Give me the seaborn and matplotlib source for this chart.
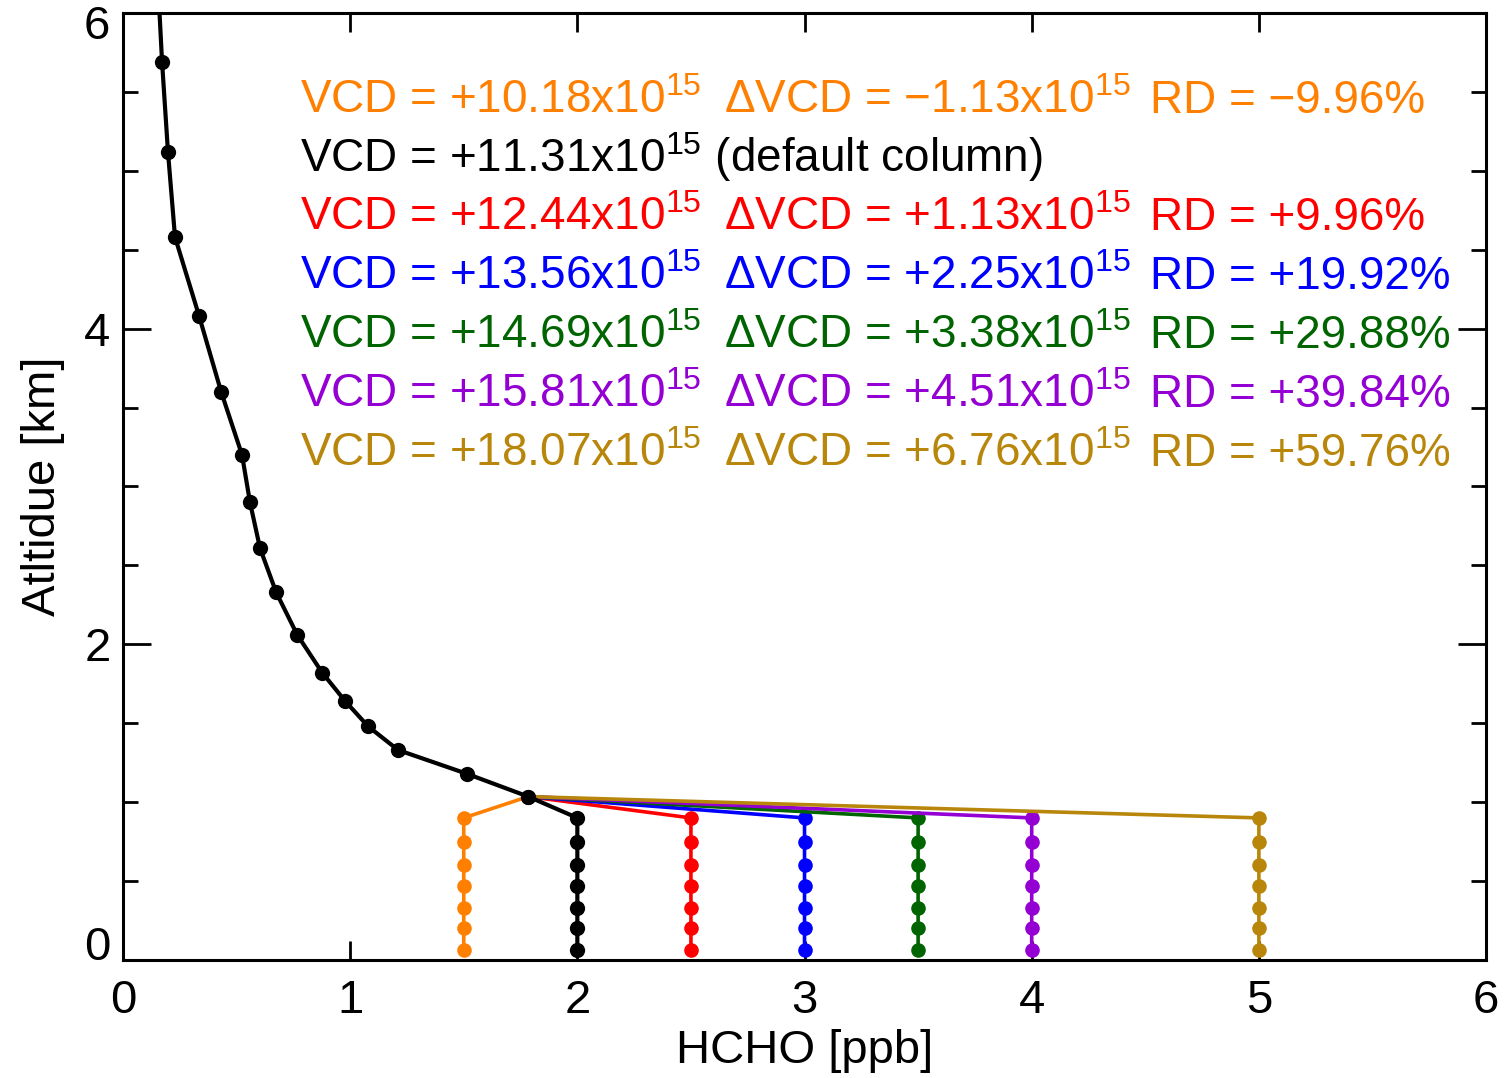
import numpy as np
import pandas as pd
import matplotlib
matplotlib.use("Agg")
import matplotlib.pyplot as plt
import matplotlib.transforms as mtransforms
import seaborn as sns
from matplotlib.ticker import MultipleLocator

# Default HCHO profile (altitude in km, mixing ratio in ppb)
altitude = [0.065, 0.20, 0.33, 0.47, 0.60, 0.75, 0.90,
            1.035, 1.18, 1.33, 1.48, 1.64, 1.82, 2.06, 2.33, 2.61,
            2.90, 3.20, 3.60, 4.08, 4.58, 5.12, 5.69, 6.30]
hcho_default = [2.0, 2.0, 2.0, 2.0, 2.0, 2.0, 2.0,
                1.784, 1.513, 1.211, 1.079, 0.978, 0.877, 0.767, 0.674, 0.603,
                0.559, 0.524, 0.432, 0.335, 0.229, 0.198, 0.172, 0.150]

# Perturbed boundary-layer values (lowest 7 levels) and their colours
n_bl = 7
perturbed_values = [1.5, 2.5, 3.0, 3.5, 4.0, 5.0]
perturbed_names = ["bl_1.5", "bl_2.5", "bl_3.0", "bl_3.5", "bl_4.0", "bl_5.0"]
perturbed_colors = ["#FF8000", "#FF0000", "#0000FF", "#006400", "#9400D3", "#B8860B"]

# Column annotations
vcd_text = ["+10.18", "+11.31", "+12.44", "+13.56", "+14.69", "+15.81", "+18.07"]
dvcd_text = ["\u22121.13", None, "+1.13", "+2.25", "+3.38", "+4.51", "+6.76"]
rd_text = ["\u22129.96%", None, "+9.96%", "+19.92%", "+29.88%", "+39.84%", "+59.76%"]
text_colors = ["#FF8000", "#000000", "#FF0000", "#0000FF", "#006400", "#9400D3", "#B8860B"]

# Build long-form tables
rows = []
for name, val in zip(perturbed_names, perturbed_values):
    prof = list(hcho_default[:n_bl + 1])
    prof[:n_bl] = [val] * n_bl
    for a, h in zip(altitude[:n_bl + 1], prof):
        rows.append({"hcho": h, "alt": a, "profile": name})
df_pert = pd.DataFrame(rows)
df_def = pd.DataFrame({"hcho": hcho_default, "alt": altitude, "profile": "default"})

sns.set_style("white")
plt.rcParams["font.family"] = ["Liberation Sans", "DejaVu Sans"]
plt.rcParams["mathtext.fontset"] = "custom"
plt.rcParams["mathtext.rm"] = "Liberation Sans"
plt.rcParams["text.color"] = "black"
plt.rcParams["axes.labelcolor"] = "black"
plt.rcParams["xtick.color"] = "black"
plt.rcParams["ytick.color"] = "black"

fig = plt.figure(figsize=(15.09, 10.78), dpi=100)
ax = fig.add_axes([0.0815, 0.1095, 0.9033, 0.8785])

sns.lineplot(data=df_pert, x="hcho", y="alt", hue="profile",
             hue_order=perturbed_names, palette=perturbed_colors,
             sort=False, estimator=None, marker="o", markersize=10.5,
             markeredgewidth=0, linewidth=2.6, legend=False, ax=ax)
sns.lineplot(data=df_def, x="hcho", y="alt", color="black",
             sort=False, estimator=None, marker="o", markersize=11,
             markeredgewidth=0, linewidth=3.0, legend=False, ax=ax)

ax.set_xlim(0, 6)
ax.set_ylim(0, 6)
ax.xaxis.set_major_locator(MultipleLocator(1))
ax.yaxis.set_major_locator(MultipleLocator(2))
ax.yaxis.set_minor_locator(MultipleLocator(0.5))

for s in ax.spines.values():
    s.set_linewidth(2.2)
    s.set_color("black")

ax.tick_params(axis="x", which="major", direction="in", length=14, width=2,
               top=True, bottom=True, labelsize=34, pad=14,
               color="black", labelcolor="black")
ax.tick_params(axis="y", which="major", direction="in", length=20, width=2,
               left=True, right=True, labelsize=34, pad=9,
               color="black", labelcolor="black")
ax.tick_params(axis="y", which="minor", direction="in", length=11, width=2,
               left=True, right=True, color="black")

ax.set_xlabel("HCHO [ppb]", fontsize=34, labelpad=4, color="black")
ax.set_ylabel("Atltidue [km]", fontsize=34, labelpad=14, color="black")

# Keep the end labels of the altitude axis inside the frame
fig.canvas.draw()
for lab in ax.get_yticklabels():
    if lab.get_text() == "0":
        lab.set_transform(lab.get_transform() +
                          mtransforms.ScaledTranslation(0, 0.17, fig.dpi_scale_trans))
    elif lab.get_text() == "6":
        lab.set_transform(lab.get_transform() +
                          mtransforms.ScaledTranslation(0, -0.09, fig.dpi_scale_trans))

# Annotation block
fs = 33
y0 = 5.368
dy = 0.373
x_col1, x_col2, x_col3 = 0.78, 2.645, 4.52
for i in range(len(vcd_text)):
    y = y0 - i * dy
    c = text_colors[i]
    if dvcd_text[i] is None:
        ax.text(x_col1, y, "VCD = " + vcd_text[i] + r"x10$^{\mathregular{15}}$ (default column)",
                color=c, fontsize=fs, va="baseline", ha="left")
    else:
        ax.text(x_col1, y, "VCD = " + vcd_text[i] + r"x10$^{\mathregular{15}}$",
                color=c, fontsize=fs, va="baseline", ha="left")
        ax.text(x_col2, y, "\u0394VCD = " + dvcd_text[i] + r"x10$^{\mathregular{15}}$",
                color=c, fontsize=fs, va="baseline", ha="left")
        ax.text(x_col3, y, "RD = " + rd_text[i],
                color=c, fontsize=fs, va="baseline", ha="left")

fig.savefig("out.png", dpi=100)
